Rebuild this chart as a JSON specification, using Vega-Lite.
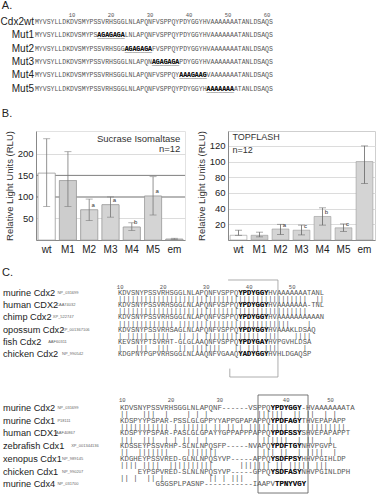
{
  "$schema": "https://vega.github.io/schema/vega-lite/v6.json",
  "padding": 0,
  "spacing": 0,
  "config": {"font": "Liberation Sans", "view": {"stroke": null}, "axis": {"labelOverlap": false, "labelFlush": false, "labelBound": false}},
  "datasets": {
    "seqA": [
      {"name": "Cdx2wt", "line": 1, "c": 1, "seq": "MYVSYLLDKDVSMYPSSVRHSGGLNLAPQNFVSPPQYPDYGGYHVAAAAAAATANLDSAQS"},
      {"name": "Mut1", "line": 2, "c": 1, "seq": "MYVSYLLDKDVSMYPSAGAGAGALNLAPQNFVSPPQYPDYGGYHVAAAAAAATANLDSAQS", "mut": "AGAGAGA", "mutStart": 17},
      {"name": "Mut2", "line": 3, "c": 1, "seq": "MYVSYLLDKDVSMYPSSVRHSGGAGAGAGAFVSPPQYPDYGGYHVAAAAAAATANLDSAQS", "mut": "AGAGAGA", "mutStart": 24},
      {"name": "Mut3", "line": 4, "c": 1, "seq": "MYVSYLLDKDVSMYPSSVRHSGGLNLAPQNAGAGAGAPDYGGYHVAAAAAAATANLDSAQS", "mut": "AGAGAGA", "mutStart": 31},
      {"name": "Mut4", "line": 5, "c": 1, "seq": "MYVSYLLDKDVSMYPSSVRHSGGLNLAPQNFVSPPQYAAAGAAGVAAAAAAATANLDSAQS", "mut": "AAAGAAG", "mutStart": 38},
      {"name": "Mut5", "line": 6, "c": 1, "seq": "MYVSYLLDKDVSMYPSSVRHSGGLNLAPQNFVSPPQYPDYGGYHAAAAAAAATANLDSAQS", "mut": "AAAAAAA", "mutStart": 45}
    ],
    "sucrase": [
      {"k": "wt", "v": 155, "lo": 78, "hi": 235},
      {"k": "M1", "v": 138, "lo": 78, "hi": 205},
      {"k": "M2", "v": 70, "lo": 45, "hi": 95, "sig": "a"},
      {"k": "M3", "v": 82, "lo": 53, "hi": 100, "sig": "a"},
      {"k": "M4", "v": 30, "lo": 22, "hi": 40, "sig": "b"},
      {"k": "M5", "v": 102, "lo": 58, "hi": 147, "sig": "a"},
      {"k": "em", "v": 2, "lo": 1, "hi": 4}
    ],
    "topflash": [
      {"k": "wt", "v": 6, "lo": 6, "hi": 12.5},
      {"k": "M1", "v": 6, "lo": 4, "hi": 10},
      {"k": "M2", "v": 14, "lo": 7, "hi": 20, "sig": "a"},
      {"k": "M3", "v": 12.5, "lo": 6.5, "hi": 19, "sig": "c"},
      {"k": "M4", "v": 30, "lo": 19, "hi": 41, "sig": "b"},
      {"k": "M5", "v": 15.5, "lo": 11, "hi": 20.5, "sig": "c"},
      {"k": "em", "v": 100, "lo": 72, "hi": 120}
    ],
    "namesC1": [
      {"name": "murine Cdx2", "acc": "NP_031699", "line": 1},
      {"name": "human CDX2", "acc": "CAA74032", "line": 3},
      {"name": "chimp Cdx2", "acc": "XP_522747", "line": 5},
      {"name": "opossum Cdx2", "acc": "XP_001367106", "line": 7},
      {"name": "fish Cdx2", "acc": "AAF60311", "line": 9},
      {"name": "chicken Cdx2", "acc": "NP_990542", "line": 11}
    ],
    "seqC1": [
      {"c": 1, "line": 1, "t": "KDVSNYPSSVRHSGGLNLAPQNFVSPPQYPDYGGYHVAAAAAAATANL"},
      {"c": 1, "line": 2, "t": "||||||||||||||||||||||||||||||||||||||||||||..||"},
      {"c": 1, "line": 3, "t": "KDVSNYPSSVRHSGGLNLAPQNFVSPPQYPDYGGYHVAAAAAAA-TNL"},
      {"c": 1, "line": 4, "t": "||||||||||||||||||||||||||||||||||||||||||||...."},
      {"c": 1, "line": 5, "t": "KDVSNYPSSVRHSGGLNLAPQNFVSPPQYPDYGGYHVAAAAAAAAAAN"},
      {"c": 1, "line": 6, "t": "|||||||||||||.||||||||||||||||||||||||||....|"},
      {"c": 1, "line": 7, "t": "KDVSNYPSSVRHSAGLNLAPQNFVSPPQYPDYGGYHVAAAKLDSAQ"},
      {"c": 1, "line": 8, "t": "|.|||||.||||..||.||.|||||||||||||.|||....||||"},
      {"c": 1, "line": 9, "t": "KEVSNYPTSVRHT-GLGLAAQNFVSPPQYPDYGAYHVPGVHLDSA"},
      {"c": 1, "line": 10, "t": "|...|||..|||..||.|||||||...||.|||.|||......|"},
      {"c": 1, "line": 11, "t": "KDGPNYPGPVRHSGGLNLAAQNFVGAAQYADYGGYHVHLDGAQSP"}
    ],
    "boldC1": [
      {"c": 29, "line": 1, "t": "YPDYGGY"},
      {"c": 29, "line": 3, "t": "YPDYGGY"},
      {"c": 29, "line": 5, "t": "YPDYGGY"},
      {"c": 29, "line": 7, "t": "YPDYGGY"},
      {"c": 29, "line": 9, "t": "YPDYGAY"},
      {"c": 29, "line": 11, "t": "YADYGGY"}
    ],
    "namesC2": [
      {"name": "murine Cdx2", "acc": "NP_031699", "line": 1},
      {"name": "murine Cdx1", "acc": "P18111", "line": 3},
      {"name": "human CDX1", "acc": "AAF40867", "line": 5},
      {"name": "zebrafish Cdx1", "acc": "XP_001344136", "line": 7},
      {"name": "xenopus Cdx1", "acc": "NP_989145", "line": 9},
      {"name": "chicken Cdx1", "acc": "NP_990207", "line": 11},
      {"name": "murine Cdx4", "acc": "NP_031700", "line": 13}
    ],
    "seqC2": [
      {"c": 1, "line": 1, "t": "KDVSNYPSSVRHSGGLNLAPQNF------VSPPQYPDYGGY-HVAAAAAAATA"},
      {"c": 1, "line": 2, "t": "||...|||..|....|.|.|...........||||||..||.||..|.|"},
      {"c": 1, "line": 3, "t": "KDSPYYPSPAR-PSSLGLGPPYYAPPGPAPAPPQYPDFAGYTHVEPAPAPP"},
      {"c": 1, "line": 4, "t": "|||||||||||.|.||||||.||.||.|.|||||||||..|.|||||||||"},
      {"c": 1, "line": 5, "t": "KDSPYYPSPAR-PASLGLGPAYYGPPAPPPAPPQYPDFSSYSHVEPAPAPPT"},
      {"c": 1, "line": 6, "t": "|||..|||..|.|.||.|.|............||||||..|.||...|"},
      {"c": 1, "line": 7, "t": "KDSSEYPSSVRHP-SLNLNPQSFP-----NVAPQYPDFTGYNHVPGVPL"},
      {"c": 1, "line": 8, "t": "||..|||||||....|||||||..........|||.||..|.||||..|"},
      {"c": 1, "line": 9, "t": "KDGHEYPSSVRED-GLNLNPQSYVP-----APPQYSDFPSYHHVPGIHLDP"},
      {"c": 1, "line": 10, "t": "....||||.||||..||||||||||......|||||||.||.|||||.|||"},
      {"c": 5, "line": 11, "t": "EYPSPVRED-SLNLNPQSYVP-----GPPQYSDFASYNHVPGINLDPH"},
      {"c": 1, "line": 12, "t": "............||.|..||.|..........||.|.|||"},
      {"c": 9, "line": 13, "t": "GSGSPLPASNP-----------IAAPVTPNYVGY"}
    ],
    "boldC2": [
      {"c": 35, "line": 1, "t": "YPDYGGY"},
      {"c": 35, "line": 3, "t": "YPDFAGY"},
      {"c": 35, "line": 5, "t": "YPDFSSY"},
      {"c": 35, "line": 7, "t": "YPDFTGY"},
      {"c": 35, "line": 9, "t": "YSDFPSY"},
      {"c": 35, "line": 11, "t": "YSDFASY"},
      {"c": 36, "line": 13, "t": "TPNYVGY"}
    ]
  },
  "vconcat": [
    {
      "width": 377,
      "height": 129,
      "layer": [
        {
          "data": {"values": [{"lab": "A.", "line": -0.2}, {"lab": "B.", "line": 7.92}]},
          "mark": {"type": "text", "align": "left", "fontSize": 11, "color": "#222"},
          "encoding": {
            "x": {"datum": -8.0, "type": "quantitative", "scale": {"domain": [-8.46, 88.2], "nice": false, "zero": false}, "axis": null},
            "y": {"field": "line", "type": "quantitative", "scale": {"domain": [-0.58, 9.12], "nice": false, "zero": false, "reverse": true}, "axis": null},
            "text": {"field": "lab"}
          }
        },
        {
          "data": {"name": "seqA"},
          "mark": {"type": "text", "align": "right", "fontSize": 10, "color": "#222"},
          "encoding": {
            "x": {"datum": 0.25, "type": "quantitative", "scale": {"domain": [-8.46, 88.2], "nice": false, "zero": false}, "axis": null},
            "y": {"field": "line", "type": "quantitative", "scale": {"domain": [-0.58, 9.12], "nice": false, "zero": false, "reverse": true}, "axis": null},
            "text": {"field": "name"}
          }
        },
        {
          "data": {"values": [{"c": 10, "line": 0.5}, {"c": 20, "line": 0.5}, {"c": 30, "line": 0.5}, {"c": 40, "line": 0.5}, {"c": 50, "line": 0.5}, {"c": 60, "line": 0.5}]},
          "mark": {"type": "text", "fontSize": 5.5, "font": "Liberation Mono", "color": "#555"},
          "encoding": {
            "x": {"field": "c", "type": "quantitative", "scale": {"domain": [-8.46, 88.2], "nice": false, "zero": false}, "axis": null},
            "y": {"field": "line", "type": "quantitative", "scale": {"domain": [-0.58, 9.12], "nice": false, "zero": false, "reverse": true}, "axis": null},
            "text": {"field": "c", "type": "nominal"}
          }
        },
        {
          "data": {"name": "seqA"},
          "mark": {"type": "text", "align": "left", "dx": -1.95, "font": "Liberation Mono", "fontSize": 6.5, "color": "#555"},
          "encoding": {
            "x": {"field": "c", "type": "quantitative", "scale": {"domain": [-8.46, 88.2], "nice": false, "zero": false}, "axis": null},
            "y": {"field": "line", "type": "quantitative", "scale": {"domain": [-0.58, 9.12], "nice": false, "zero": false, "reverse": true}, "axis": null},
            "text": {"field": "seq"}
          }
        },
        {
          "data": {"name": "seqA"},
          "transform": [{"filter": "isValid(datum.mut)"}],
          "mark": {"type": "text", "align": "left", "dx": -1.95, "font": "Liberation Mono", "fontSize": 6.5, "fontWeight": "bold", "color": "#111", "fill": "#111"},
          "encoding": {
            "x": {"field": "mutStart", "type": "quantitative", "scale": {"domain": [-8.46, 88.2], "nice": false, "zero": false}, "axis": null},
            "y": {"field": "line", "type": "quantitative", "scale": {"domain": [-0.58, 9.12], "nice": false, "zero": false, "reverse": true}, "axis": null},
            "text": {"field": "mut"}
          }
        },
        {
          "data": {"name": "seqA"},
          "transform": [{"filter": "isValid(datum.mut)"}, {"calculate": "pad('', length(datum.mut), '_')", "as": "ul"}],
          "mark": {"type": "text", "align": "left", "dx": -1.95, "dy": 1, "font": "Liberation Mono", "fontSize": 6.5, "fontWeight": "bold", "color": "#222", "fill": "#222"},
          "encoding": {
            "x": {"field": "mutStart", "type": "quantitative", "scale": {"domain": [-8.46, 88.2], "nice": false, "zero": false}, "axis": null},
            "y": {"field": "line", "type": "quantitative", "scale": {"domain": [-0.58, 9.12], "nice": false, "zero": false, "reverse": true}, "axis": null},
            "text": {"field": "ul"}
          }
        }
      ]
    },
    {
      "hconcat": [
        {"width": 36, "height": 109, "data": {"values": []}, "mark": "point", "encoding": {}},
        {
          "width": 149,
          "height": 109,
          "view": {"stroke": "#e2e2e2"},
          "data": {"name": "sucrase"},
          "layer": [
            {
              "mark": {"type": "bar", "stroke": "#999", "strokeWidth": 0.6},
              "encoding": {
                "x": {"field": "k", "type": "nominal", "sort": null, "scale": {"paddingInner": 0.2, "paddingOuter": 0.1},
                      "axis": {"title": null, "labelAngle": 0, "labelFontSize": 10, "labelColor": "#222", "domainColor": "#888", "ticks": false, "tickSize": 0, "labelPadding": 4}},
                "y": {"field": "v", "type": "quantitative", "title": "Relative Light Units (RLU)", "scale": {"domain": [0, 253], "nice": false},
                      "axis": {"values": [50, 100, 150, 200], "labelOverlap": false, "titleFontSize": 9.5, "titleFontWeight": "normal", "titleColor": "#333", "titlePadding": 3, "labelFontSize": 9.5, "labelColor": "#222", "labelPadding": 3, "ticks": false, "tickSize": 0, "domainColor": "#888", "gridColor": "#dcdcdc"}},
                "color": {"field": "k", "type": "nominal", "legend": null,
                          "scale": {"domain": ["wt", "M1", "M2", "M3", "M4", "M5", "em"], "range": ["#ffffff", "#cdcdcd", "#d4d4d4", "#d4d4d4", "#d4d4d4", "#d4d4d4", "#d4d4d4"]}}
              }
            },
            {
              "data": {"values": [{"ref": 100}, {"ref": 150}]},
              "mark": {"type": "rule", "color": "#777", "strokeWidth": 0.9},
              "encoding": {
                "y": {"field": "ref", "type": "quantitative", "title": "Relative Light Units (RLU)", "scale": {"domain": [0, 253], "nice": false},
                      "axis": {"values": [50, 100, 150, 200], "labelOverlap": false, "titleFontSize": 9.5, "titleFontWeight": "normal", "titleColor": "#333", "titlePadding": 3, "labelFontSize": 9.5, "labelColor": "#222", "labelPadding": 3, "ticks": false, "tickSize": 0, "domainColor": "#888", "gridColor": "#dcdcdc"}}
              }
            },
            {
              "mark": {"type": "bar", "stroke": "#999", "strokeWidth": 0.6},
              "encoding": {
                "x": {"field": "k", "type": "nominal", "sort": null, "scale": {"paddingInner": 0.2, "paddingOuter": 0.1},
                      "axis": {"title": null, "labelAngle": 0, "labelFontSize": 10, "labelColor": "#222", "domainColor": "#888", "ticks": false, "tickSize": 0, "labelPadding": 4}},
                "y": {"field": "v", "type": "quantitative", "title": "Relative Light Units (RLU)", "scale": {"domain": [0, 253], "nice": false},
                      "axis": {"values": [50, 100, 150, 200], "labelOverlap": false, "titleFontSize": 9.5, "titleFontWeight": "normal", "titleColor": "#333", "titlePadding": 3, "labelFontSize": 9.5, "labelColor": "#222", "labelPadding": 3, "ticks": false, "tickSize": 0, "domainColor": "#888", "gridColor": "#dcdcdc"}},
                "color": {"field": "k", "type": "nominal", "legend": null,
                          "scale": {"domain": ["wt", "M1", "M2", "M3", "M4", "M5", "em"], "range": ["#ffffff", "#cdcdcd", "#d4d4d4", "#d4d4d4", "#d4d4d4", "#d4d4d4", "#d4d4d4"]}}
              }
            },
            {
              "mark": {"type": "rule", "color": "#777", "strokeWidth": 0.8},
              "encoding": {
                "x": {"field": "k", "type": "nominal", "sort": null, "scale": {"paddingInner": 0.2, "paddingOuter": 0.1},
                      "axis": {"title": null, "labelAngle": 0, "labelFontSize": 10, "labelColor": "#222", "domainColor": "#888", "ticks": false, "tickSize": 0, "labelPadding": 4}},
                "y": {"field": "lo", "type": "quantitative", "title": "Relative Light Units (RLU)", "scale": {"domain": [0, 253], "nice": false},
                      "axis": {"values": [50, 100, 150, 200], "labelOverlap": false, "titleFontSize": 9.5, "titleFontWeight": "normal", "titleColor": "#333", "titlePadding": 3, "labelFontSize": 9.5, "labelColor": "#222", "labelPadding": 3, "ticks": false, "tickSize": 0, "domainColor": "#888", "gridColor": "#dcdcdc"}},
                "y2": {"field": "hi"}
              }
            },
            {
              "mark": {"type": "tick", "color": "#777", "thickness": 0.8, "size": 7},
              "encoding": {
                "x": {"field": "k", "type": "nominal", "sort": null, "scale": {"paddingInner": 0.2, "paddingOuter": 0.1},
                      "axis": {"title": null, "labelAngle": 0, "labelFontSize": 10, "labelColor": "#222", "domainColor": "#888", "ticks": false, "tickSize": 0, "labelPadding": 4}},
                "y": {"field": "lo", "type": "quantitative", "title": "Relative Light Units (RLU)", "scale": {"domain": [0, 253], "nice": false},
                      "axis": {"values": [50, 100, 150, 200], "labelOverlap": false, "titleFontSize": 9.5, "titleFontWeight": "normal", "titleColor": "#333", "titlePadding": 3, "labelFontSize": 9.5, "labelColor": "#222", "labelPadding": 3, "ticks": false, "tickSize": 0, "domainColor": "#888", "gridColor": "#dcdcdc"}}
              }
            },
            {
              "mark": {"type": "tick", "color": "#777", "thickness": 0.8, "size": 7},
              "encoding": {
                "x": {"field": "k", "type": "nominal", "sort": null, "scale": {"paddingInner": 0.2, "paddingOuter": 0.1},
                      "axis": {"title": null, "labelAngle": 0, "labelFontSize": 10, "labelColor": "#222", "domainColor": "#888", "ticks": false, "tickSize": 0, "labelPadding": 4}},
                "y": {"field": "hi", "type": "quantitative", "title": "Relative Light Units (RLU)", "scale": {"domain": [0, 253], "nice": false},
                      "axis": {"values": [50, 100, 150, 200], "labelOverlap": false, "titleFontSize": 9.5, "titleFontWeight": "normal", "titleColor": "#333", "titlePadding": 3, "labelFontSize": 9.5, "labelColor": "#222", "labelPadding": 3, "ticks": false, "tickSize": 0, "domainColor": "#888", "gridColor": "#dcdcdc"}}
              }
            },
            {
              "transform": [{"filter": "isValid(datum.sig)"}],
              "mark": {"type": "text", "dx": 4, "dy": -5, "fontSize": 6, "color": "#333"},
              "encoding": {
                "x": {"field": "k", "type": "nominal", "sort": null, "scale": {"paddingInner": 0.2, "paddingOuter": 0.1},
                      "axis": {"title": null, "labelAngle": 0, "labelFontSize": 10, "labelColor": "#222", "domainColor": "#888", "ticks": false, "tickSize": 0, "labelPadding": 4}},
                "y": {"field": "v", "type": "quantitative", "title": "Relative Light Units (RLU)", "scale": {"domain": [0, 253], "nice": false},
                      "axis": {"values": [50, 100, 150, 200], "labelOverlap": false, "titleFontSize": 9.5, "titleFontWeight": "normal", "titleColor": "#333", "titlePadding": 3, "labelFontSize": 9.5, "labelColor": "#222", "labelPadding": 3, "ticks": false, "tickSize": 0, "domainColor": "#888", "gridColor": "#dcdcdc"}},
                "text": {"field": "sig"}
              }
            },
            {
              "data": {"values": [{}]},
              "mark": {"type": "text", "align": "right", "dx": 6, "fontSize": 9.5, "color": "#333", "text": "Sucrase Isomaltase"},
              "encoding": {
                "x": {"datum": "em", "type": "nominal", "scale": {"paddingInner": 0.2, "paddingOuter": 0.1},
                      "axis": {"title": null, "labelAngle": 0, "labelFontSize": 10, "labelColor": "#222", "domainColor": "#888", "ticks": false, "tickSize": 0, "labelPadding": 4}},
                "y": {"datum": 235, "type": "quantitative", "title": "Relative Light Units (RLU)", "scale": {"domain": [0, 253], "nice": false},
                      "axis": {"values": [50, 100, 150, 200], "labelOverlap": false, "titleFontSize": 9.5, "titleFontWeight": "normal", "titleColor": "#333", "titlePadding": 3, "labelFontSize": 9.5, "labelColor": "#222", "labelPadding": 3, "ticks": false, "tickSize": 0, "domainColor": "#888", "gridColor": "#dcdcdc"}}
              }
            },
            {
              "data": {"values": [{}]},
              "mark": {"type": "text", "align": "right", "dx": 6, "fontSize": 9.5, "color": "#333", "text": "n=12"},
              "encoding": {
                "x": {"datum": "em", "type": "nominal", "scale": {"paddingInner": 0.2, "paddingOuter": 0.1},
                      "axis": {"title": null, "labelAngle": 0, "labelFontSize": 10, "labelColor": "#222", "domainColor": "#888", "ticks": false, "tickSize": 0, "labelPadding": 4}},
                "y": {"datum": 212, "type": "quantitative", "title": "Relative Light Units (RLU)", "scale": {"domain": [0, 253], "nice": false},
                      "axis": {"values": [50, 100, 150, 200], "labelOverlap": false, "titleFontSize": 9.5, "titleFontWeight": "normal", "titleColor": "#333", "titlePadding": 3, "labelFontSize": 9.5, "labelColor": "#222", "labelPadding": 3, "ticks": false, "tickSize": 0, "domainColor": "#888", "gridColor": "#dcdcdc"}}
              }
            }
          ]
        },
        {"width": 43, "height": 109, "data": {"values": []}, "mark": "point", "encoding": {}},
        {
          "width": 147,
          "height": 109,
          "view": {"stroke": "#cfcfcf"},
          "data": {"name": "topflash"},
          "layer": [
            {
              "mark": {"type": "bar", "stroke": "#999", "strokeWidth": 0.6},
              "encoding": {
                "x": {"field": "k", "type": "nominal", "sort": null, "scale": {"paddingInner": 0.2, "paddingOuter": 0.1},
                      "axis": {"title": null, "labelAngle": 0, "labelFontSize": 10, "labelColor": "#222", "domainColor": "#888", "ticks": false, "tickSize": 0, "labelPadding": 4}},
                "y": {"field": "v", "type": "quantitative", "title": "Relative Light Units (RLU)", "scale": {"domain": [0, 139], "nice": false},
                      "axis": {"values": [20, 40, 60, 80, 100, 120], "labelOverlap": false, "titleFontSize": 9.5, "titleFontWeight": "normal", "titleColor": "#333", "titlePadding": 3, "labelFontSize": 9.5, "labelColor": "#222", "labelPadding": 3, "ticks": false, "tickSize": 0, "domainColor": "#888", "gridColor": "#dcdcdc"}},
                "color": {"field": "k", "type": "nominal", "legend": null,
                          "scale": {"domain": ["wt", "M1", "M2", "M3", "M4", "M5", "em"], "range": ["#ffffff", "#cccccc", "#cccccc", "#cccccc", "#dddddd", "#dddddd", "#8a8a8a"]}}
              }
            },
            {
              "mark": {"type": "rule", "color": "#666", "strokeWidth": 0.8},
              "encoding": {
                "x": {"field": "k", "type": "nominal", "sort": null, "scale": {"paddingInner": 0.2, "paddingOuter": 0.1},
                      "axis": {"title": null, "labelAngle": 0, "labelFontSize": 10, "labelColor": "#222", "domainColor": "#888", "ticks": false, "tickSize": 0, "labelPadding": 4}},
                "y": {"field": "lo", "type": "quantitative", "title": "Relative Light Units (RLU)", "scale": {"domain": [0, 139], "nice": false},
                      "axis": {"values": [20, 40, 60, 80, 100, 120], "labelOverlap": false, "titleFontSize": 9.5, "titleFontWeight": "normal", "titleColor": "#333", "titlePadding": 3, "labelFontSize": 9.5, "labelColor": "#222", "labelPadding": 3, "ticks": false, "tickSize": 0, "domainColor": "#888", "gridColor": "#dcdcdc"}},
                "y2": {"field": "hi"}
              }
            },
            {
              "mark": {"type": "tick", "color": "#666", "thickness": 0.8, "size": 7},
              "encoding": {
                "x": {"field": "k", "type": "nominal", "sort": null, "scale": {"paddingInner": 0.2, "paddingOuter": 0.1},
                      "axis": {"title": null, "labelAngle": 0, "labelFontSize": 10, "labelColor": "#222", "domainColor": "#888", "ticks": false, "tickSize": 0, "labelPadding": 4}},
                "y": {"field": "lo", "type": "quantitative", "title": "Relative Light Units (RLU)", "scale": {"domain": [0, 139], "nice": false},
                      "axis": {"values": [20, 40, 60, 80, 100, 120], "labelOverlap": false, "titleFontSize": 9.5, "titleFontWeight": "normal", "titleColor": "#333", "titlePadding": 3, "labelFontSize": 9.5, "labelColor": "#222", "labelPadding": 3, "ticks": false, "tickSize": 0, "domainColor": "#888", "gridColor": "#dcdcdc"}}
              }
            },
            {
              "mark": {"type": "tick", "color": "#666", "thickness": 0.8, "size": 7},
              "encoding": {
                "x": {"field": "k", "type": "nominal", "sort": null, "scale": {"paddingInner": 0.2, "paddingOuter": 0.1},
                      "axis": {"title": null, "labelAngle": 0, "labelFontSize": 10, "labelColor": "#222", "domainColor": "#888", "ticks": false, "tickSize": 0, "labelPadding": 4}},
                "y": {"field": "hi", "type": "quantitative", "title": "Relative Light Units (RLU)", "scale": {"domain": [0, 139], "nice": false},
                      "axis": {"values": [20, 40, 60, 80, 100, 120], "labelOverlap": false, "titleFontSize": 9.5, "titleFontWeight": "normal", "titleColor": "#333", "titlePadding": 3, "labelFontSize": 9.5, "labelColor": "#222", "labelPadding": 3, "ticks": false, "tickSize": 0, "domainColor": "#888", "gridColor": "#dcdcdc"}}
              }
            },
            {
              "transform": [{"filter": "isValid(datum.sig)"}],
              "mark": {"type": "text", "dx": 4, "dy": -4, "fontSize": 6, "color": "#333"},
              "encoding": {
                "x": {"field": "k", "type": "nominal", "sort": null, "scale": {"paddingInner": 0.2, "paddingOuter": 0.1},
                      "axis": {"title": null, "labelAngle": 0, "labelFontSize": 10, "labelColor": "#222", "domainColor": "#888", "ticks": false, "tickSize": 0, "labelPadding": 4}},
                "y": {"field": "v", "type": "quantitative", "title": "Relative Light Units (RLU)", "scale": {"domain": [0, 139], "nice": false},
                      "axis": {"values": [20, 40, 60, 80, 100, 120], "labelOverlap": false, "titleFontSize": 9.5, "titleFontWeight": "normal", "titleColor": "#333", "titlePadding": 3, "labelFontSize": 9.5, "labelColor": "#222", "labelPadding": 3, "ticks": false, "tickSize": 0, "domainColor": "#888", "gridColor": "#dcdcdc"}},
                "text": {"field": "sig"}
              }
            },
            {
              "data": {"values": [{}]},
              "mark": {"type": "text", "align": "left", "dx": -6, "fontSize": 9, "color": "#333", "text": "TOPFLASH"},
              "encoding": {
                "x": {"datum": "wt", "type": "nominal", "scale": {"paddingInner": 0.2, "paddingOuter": 0.1},
                      "axis": {"title": null, "labelAngle": 0, "labelFontSize": 10, "labelColor": "#222", "domainColor": "#888", "ticks": false, "tickSize": 0, "labelPadding": 4}},
                "y": {"datum": 131, "type": "quantitative", "title": "Relative Light Units (RLU)", "scale": {"domain": [0, 139], "nice": false},
                      "axis": {"values": [20, 40, 60, 80, 100, 120], "labelOverlap": false, "titleFontSize": 9.5, "titleFontWeight": "normal", "titleColor": "#333", "titlePadding": 3, "labelFontSize": 9.5, "labelColor": "#222", "labelPadding": 3, "ticks": false, "tickSize": 0, "domainColor": "#888", "gridColor": "#dcdcdc"}}
              }
            },
            {
              "data": {"values": [{}]},
              "mark": {"type": "text", "align": "left", "dx": -6, "fontSize": 9, "color": "#333", "text": "n=12"},
              "encoding": {
                "x": {"datum": "wt", "type": "nominal", "scale": {"paddingInner": 0.2, "paddingOuter": 0.1},
                      "axis": {"title": null, "labelAngle": 0, "labelFontSize": 10, "labelColor": "#222", "domainColor": "#888", "ticks": false, "tickSize": 0, "labelPadding": 4}},
                "y": {"datum": 115, "type": "quantitative", "title": "Relative Light Units (RLU)", "scale": {"domain": [0, 139], "nice": false},
                      "axis": {"values": [20, 40, 60, 80, 100, 120], "labelOverlap": false, "titleFontSize": 9.5, "titleFontWeight": "normal", "titleColor": "#333", "titlePadding": 3, "labelFontSize": 9.5, "labelColor": "#222", "labelPadding": 3, "ticks": false, "tickSize": 0, "domainColor": "#888", "gridColor": "#dcdcdc"}}
              }
            }
          ]
        }
      ],
      "spacing": 0,
      "bounds": "flush"
    },
    {
      "width": 377,
      "height": 133,
      "layer": [
        {
          "data": {"values": [{"lab": "C.", "line": -2.3}]},
          "mark": {"type": "text", "align": "left", "fontSize": 11, "color": "#222"},
          "encoding": {
            "x": {"datum": -26.45, "type": "quantitative", "scale": {"domain": [-26.94, 60.73], "nice": false, "zero": false}, "axis": null},
            "y": {"field": "line", "type": "quantitative", "scale": {"domain": [-5.255, 16.585], "nice": false, "zero": false, "reverse": true}, "axis": null},
            "text": {"field": "lab"}
          }
        },
        {
          "data": {"name": "namesC1"},
          "mark": {"type": "text", "align": "left", "fontSize": 9.2, "color": "#222"},
          "encoding": {
            "x": {"datum": -26.24, "type": "quantitative", "scale": {"domain": [-26.94, 60.73], "nice": false, "zero": false}, "axis": null},
            "y": {"field": "line", "type": "quantitative", "scale": {"domain": [-5.255, 16.585], "nice": false, "zero": false, "reverse": true}, "axis": null},
            "text": {"field": "name"}
          }
        },
        {
          "data": {"name": "namesC1"},
          "transform": [
            {"calculate": "0.5*length(datum.name) + 0.18*length(replace(datum.name, regexp('[^A-Z0-9]','g'), '')) - 0.22*length(replace(datum.name, regexp('[^ ]','g'), ''))", "as": "em"},
            {"calculate": "-26.24 + (datum.em*9.2 + 2.5)/4.3", "as": "ac"}
          ],
          "mark": {"type": "text", "align": "left", "fontSize": 4, "color": "#666"},
          "encoding": {
            "x": {"field": "ac", "type": "quantitative", "scale": {"domain": [-26.94, 60.73], "nice": false, "zero": false}, "axis": null},
            "y": {"field": "line", "type": "quantitative", "scale": {"domain": [-5.255, 16.585], "nice": false, "zero": false, "reverse": true}, "axis": null},
            "text": {"field": "acc"}
          }
        },
        {
          "data": {"values": [{"c": 1, "n": "10", "line": 0}, {"c": 11, "n": "20", "line": 0}, {"c": 21, "n": "30", "line": 0}, {"c": 31, "n": "40", "line": 0}, {"c": 41, "n": "50", "line": 0}]},
          "mark": {"type": "text", "fontSize": 5.5, "font": "Liberation Mono", "color": "#555"},
          "encoding": {
            "x": {"field": "c", "type": "quantitative", "scale": {"domain": [-26.94, 60.73], "nice": false, "zero": false}, "axis": null},
            "y": {"field": "line", "type": "quantitative", "scale": {"domain": [-5.255, 16.585], "nice": false, "zero": false, "reverse": true}, "axis": null},
            "text": {"field": "n"}
          }
        },
        {
          "data": {"name": "seqC1"},
          "transform": [{"calculate": "replace(datum.t, regexp('[.]','g'), '\u00a0')", "as": "tt"}],
          "mark": {"type": "text", "align": "left", "dx": -2.15, "font": "Liberation Mono", "fontSize": 7.17, "color": "#555"},
          "encoding": {
            "x": {"field": "c", "type": "quantitative", "scale": {"domain": [-26.94, 60.73], "nice": false, "zero": false}, "axis": null},
            "y": {"field": "line", "type": "quantitative", "scale": {"domain": [-5.255, 16.585], "nice": false, "zero": false, "reverse": true}, "axis": null},
            "text": {"field": "tt"}
          }
        },
        {
          "data": {"name": "boldC1"},
          "mark": {"type": "text", "align": "left", "dx": -2.15, "font": "Liberation Mono", "fontSize": 7.17, "fontWeight": "bold", "color": "#111", "fill": "#111"},
          "encoding": {
            "x": {"field": "c", "type": "quantitative", "scale": {"domain": [-26.94, 60.73], "nice": false, "zero": false}, "axis": null},
            "y": {"field": "line", "type": "quantitative", "scale": {"domain": [-5.255, 16.585], "nice": false, "zero": false, "reverse": true}, "axis": null},
            "text": {"field": "t"}
          }
        },
        {
          "data": {"values": [{}]},
          "mark": {"type": "rule", "color": "#999", "strokeWidth": 0.8},
          "encoding": {
            "x": {"datum": 26.1, "type": "quantitative", "scale": {"domain": [-26.94, 60.73], "nice": false, "zero": false}, "axis": null},
            "x2": {"datum": 37.7},
            "y": {"datum": -1.15, "type": "quantitative", "scale": {"domain": [-5.255, 16.585], "nice": false, "zero": false, "reverse": true}, "axis": null}
          }
        },
        {
          "data": {"values": [{}]},
          "mark": {"type": "rule", "color": "#999", "strokeWidth": 0.8},
          "encoding": {
            "x": {"datum": 37.7, "type": "quantitative", "scale": {"domain": [-26.94, 60.73], "nice": false, "zero": false}, "axis": null},
            "y": {"datum": -1.15, "type": "quantitative", "scale": {"domain": [-5.255, 16.585], "nice": false, "zero": false, "reverse": true}, "axis": null},
            "y2": {"datum": 14.78}
          }
        },
        {
          "data": {"values": [{}]},
          "mark": {"type": "rule", "color": "#999", "strokeWidth": 0.8},
          "encoding": {
            "x": {"datum": 26.5, "type": "quantitative", "scale": {"domain": [-26.94, 60.73], "nice": false, "zero": false}, "axis": null},
            "x2": {"datum": 37.7},
            "y": {"datum": 14.78, "type": "quantitative", "scale": {"domain": [-5.255, 16.585], "nice": false, "zero": false, "reverse": true}, "axis": null}
          }
        },
        {
          "data": {"values": [{}]},
          "mark": {"type": "rule", "color": "#999", "strokeWidth": 0.8},
          "encoding": {
            "x": {"datum": 26.5, "type": "quantitative", "scale": {"domain": [-26.94, 60.73], "nice": false, "zero": false}, "axis": null},
            "y": {"datum": 13.4, "type": "quantitative", "scale": {"domain": [-5.255, 16.585], "nice": false, "zero": false, "reverse": true}, "axis": null},
            "y2": {"datum": 14.78}
          }
        }
      ]
    },
    {
      "width": 377,
      "height": 115,
      "layer": [
        {
          "data": {"name": "namesC2"},
          "mark": {"type": "text", "align": "left", "fontSize": 9.2, "color": "#222"},
          "encoding": {
            "x": {"datum": -25.91, "type": "quantitative", "scale": {"domain": [-26.59, 58.51], "nice": false, "zero": false}, "axis": null},
            "y": {"field": "line", "type": "quantitative", "scale": {"domain": [-2.15, 15.96], "nice": false, "zero": false, "reverse": true}, "axis": null},
            "text": {"field": "name"}
          }
        },
        {
          "data": {"name": "namesC2"},
          "transform": [
            {"calculate": "0.5*length(datum.name) + 0.18*length(replace(datum.name, regexp('[^A-Z0-9]','g'), '')) - 0.22*length(replace(datum.name, regexp('[^ ]','g'), ''))", "as": "em"},
            {"calculate": "-25.91 + (datum.em*9.2 + 2.5)/4.43", "as": "ac"}
          ],
          "mark": {"type": "text", "align": "left", "fontSize": 4, "color": "#666"},
          "encoding": {
            "x": {"field": "ac", "type": "quantitative", "scale": {"domain": [-26.59, 58.51], "nice": false, "zero": false}, "axis": null},
            "y": {"field": "line", "type": "quantitative", "scale": {"domain": [-2.15, 15.96], "nice": false, "zero": false, "reverse": true}, "axis": null},
            "text": {"field": "acc"}
          }
        },
        {
          "data": {"values": [{"c": 1, "n": "10", "line": 0}, {"c": 12, "n": "20", "line": 0}, {"c": 23, "n": "30", "line": 0}, {"c": 38, "n": "40", "line": 0}, {"c": 48, "n": "50", "line": 0}]},
          "mark": {"type": "text", "fontSize": 5.5, "font": "Liberation Mono", "color": "#555", "dy": -2},
          "encoding": {
            "x": {"field": "c", "type": "quantitative", "scale": {"domain": [-26.59, 58.51], "nice": false, "zero": false}, "axis": null},
            "y": {"field": "line", "type": "quantitative", "scale": {"domain": [-2.15, 15.96], "nice": false, "zero": false, "reverse": true}, "axis": null},
            "text": {"field": "n"}
          }
        },
        {
          "data": {"name": "seqC2"},
          "transform": [{"calculate": "replace(datum.t, regexp('[.]','g'), '\u00a0')", "as": "tt"}],
          "mark": {"type": "text", "align": "left", "dx": -2.2, "font": "Liberation Mono", "fontSize": 7.38, "color": "#555"},
          "encoding": {
            "x": {"field": "c", "type": "quantitative", "scale": {"domain": [-26.59, 58.51], "nice": false, "zero": false}, "axis": null},
            "y": {"field": "line", "type": "quantitative", "scale": {"domain": [-2.15, 15.96], "nice": false, "zero": false, "reverse": true}, "axis": null},
            "text": {"field": "tt"}
          }
        },
        {
          "data": {"name": "boldC2"},
          "mark": {"type": "text", "align": "left", "dx": -2.2, "font": "Liberation Mono", "fontSize": 7.38, "fontWeight": "bold", "color": "#111", "fill": "#111"},
          "encoding": {
            "x": {"field": "c", "type": "quantitative", "scale": {"domain": [-26.59, 58.51], "nice": false, "zero": false}, "axis": null},
            "y": {"field": "line", "type": "quantitative", "scale": {"domain": [-2.15, 15.96], "nice": false, "zero": false, "reverse": true}, "axis": null},
            "text": {"field": "t"}
          }
        },
        {
          "data": {"values": [{}]},
          "mark": {"type": "rect", "fill": null, "fillOpacity": 0, "stroke": "#555", "strokeWidth": 0.8},
          "encoding": {
            "x": {"datum": 31.65, "type": "quantitative", "scale": {"domain": [-26.59, 58.51], "nice": false, "zero": false}, "axis": null},
            "x2": {"datum": 42.94},
            "y": {"datum": -1.05, "type": "quantitative", "scale": {"domain": [-2.15, 15.96], "nice": false, "zero": false, "reverse": true}, "axis": null},
            "y2": {"datum": 14.39}
          }
        }
      ]
    }
  ]
}
